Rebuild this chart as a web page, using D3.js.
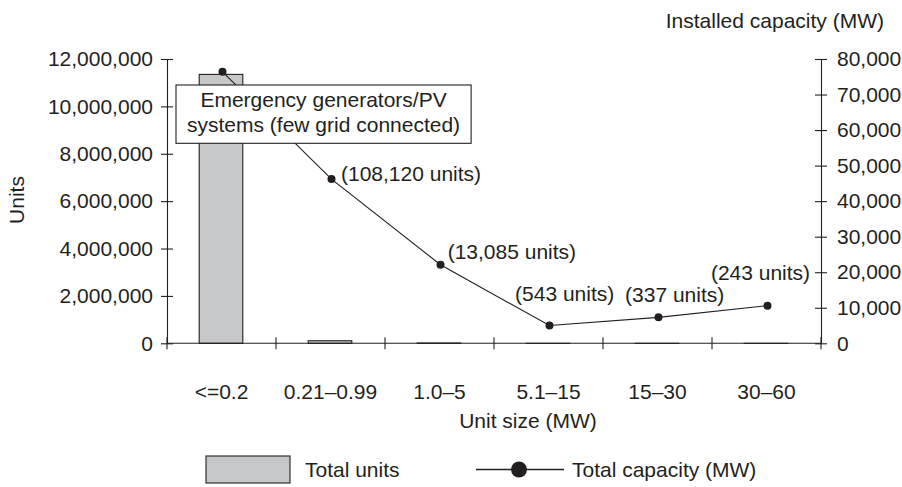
<!DOCTYPE html>
<html>
<head>
<meta charset="utf-8">
<script src="https://cdn.jsdelivr.net/npm/d3@7"></script>
<style>
  body { margin: 0; background: #fff; }
  svg text { font-family: "Liberation Sans", Arial, Helvetica, sans-serif; fill: #231f20; }
</style>
</head>
<body>
<svg id="chart" width="902" height="487"></svg>
<script>
// Unit size classes (MW)
const categories = ["<=0.2", "0.21\u20130.99", "1.0\u20135", "5.1\u201315", "15\u201330", "30\u201360"];
// Number of units in each size class
const totalUnits = [11350000, 108120, 13085, 543, 337, 243];
// Installed capacity in each size class (MW)
const totalCapacity = [76400, 46200, 22100, 5000, 7300, 10600];
// Point annotations
const unitLabels = ["", "(108,120 units)", "(13,085 units)", "(543 units)", "(337 units)", "(243 units)"];
const leftTicks = [0, 2000000, 4000000, 6000000, 8000000, 10000000, 12000000];
const rightTicks = [0, 10000, 20000, 30000, 40000, 50000, 60000, 70000, 80000];
const calloutLines = ["Emergency generators/PV", "systems (few grid connected)"];

const svg = d3.select("#chart");
const ink = "#231f20";
const fontSize = 21;

const plotLeft = 167, plotRight = 821, plotTop = 59, plotBottom = 343.3;

const x = d3.scaleBand().domain(categories).range([plotLeft, plotRight]).padding(0);
const yUnits = d3.scaleLinear().domain([0, 12000000]).range([plotBottom, plotTop]);
const yCap = d3.scaleLinear().domain([0, 80000]).range([plotBottom, plotTop]);
const fmt = d3.format(",");

// Bars: total units
const barW = x.bandwidth() * 0.4;
svg.append("g").selectAll("rect").data(categories).join("rect")
  .attr("x", d => x(d) + x.bandwidth() / 2 - barW / 2 - 0.5)
  .attr("y", (d, i) => yUnits(totalUnits[i]))
  .attr("width", barW)
  .attr("height", (d, i) => plotBottom - yUnits(totalUnits[i]))
  .attr("fill", "#c6c7c9")
  .attr("stroke", ink)
  .attr("stroke-width", 1.1);

// Left axis (units), ticks cross the axis line
const gl = svg.append("g").attr("transform", `translate(${plotLeft},0)`)
  .call(d3.axisLeft(yUnits).tickValues(leftTicks).tickFormat(fmt).tickSize(6).tickSizeOuter(0).tickPadding(8));
gl.selectAll(".tick").append("line").attr("x2", 6);

// Right axis (capacity)
const gr = svg.append("g").attr("transform", `translate(${plotRight},0)`)
  .call(d3.axisRight(yCap).tickValues(rightTicks).tickFormat(fmt).tickSize(6).tickSizeOuter(0).tickPadding(10));
gr.selectAll(".tick").append("line").attr("x2", -6);

[gl, gr].forEach(g => {
  g.attr("font-family", null);
  g.selectAll("text").attr("font-size", fontSize).attr("fill", ink);
  g.selectAll("line, path").attr("stroke", ink).attr("stroke-width", 1.1);
});

// Bottom axis: ticks at class boundaries, labels at class centres
const gb = svg.append("g");
gb.append("line").attr("x1", plotLeft).attr("x2", plotRight).attr("y1", plotBottom).attr("y2", plotBottom)
  .attr("stroke", ink).attr("stroke-width", 1.1);
const bounds = categories.map(c => x(c)).concat([plotRight]);
gb.selectAll("line.b").data(bounds).join("line").attr("class", "b")
  .attr("x1", d => d).attr("x2", d => d).attr("y1", plotBottom - 6).attr("y2", plotBottom + 6)
  .attr("stroke", ink).attr("stroke-width", 1.1);
gb.selectAll("text").data(categories).join("text")
  .attr("x", d => x(d) + x.bandwidth() / 2)
  .attr("y", plotBottom + 56)
  .attr("text-anchor", "middle")
  .attr("font-size", fontSize)
  .text(d => d);

// Capacity line
const cx = i => x(categories[i]) + x.bandwidth() / 2 + 1;
const line = d3.line().x((d, i) => cx(i)).y(d => yCap(d));
svg.append("path").datum(totalCapacity)
  .attr("d", line).attr("fill", "none").attr("stroke", ink).attr("stroke-width", 1.1);
svg.append("g").selectAll("circle").data(totalCapacity).join("circle")
  .attr("cx", (d, i) => cx(i)).attr("cy", d => yCap(d)).attr("r", 4).attr("fill", ink);

// Unit-count annotations beside the capacity points: [dx, dy, anchor]
const labelPlacement = [null, [9.5, -3.4, "start"], [7.2, -11.5, "start"], [15.2, -30.5, "middle"], [16.2, -20.7, "middle"], [-7, -31.6, "middle"]];
const labelIdx = d3.range(unitLabels.length).filter(i => labelPlacement[i]);
svg.append("g").selectAll("text").data(labelIdx).join("text")
  .attr("x", i => cx(i) + labelPlacement[i][0])
  .attr("y", i => yCap(totalCapacity[i]) + labelPlacement[i][1])
  .attr("text-anchor", i => labelPlacement[i][2])
  .attr("dominant-baseline", "middle")
  .attr("font-size", fontSize)
  .text(i => unitLabels[i]);

// Callout box for the smallest class, sized to its text
const box = svg.append("g");
const boxRect = box.append("rect").attr("x", 176).attr("y", 85).attr("height", 58.3)
  .attr("fill", "#fff").attr("stroke", ink).attr("stroke-width", 1.1);
const boxText = box.selectAll("text").data(calloutLines).join("text")
  .attr("y", (d, i) => 107 + i * 25)
  .attr("text-anchor", "middle").attr("font-size", fontSize).text(d => d);
const textW = d3.max(boxText.nodes(), n => n.getComputedTextLength());
const boxPad = 11;
boxRect.attr("width", textW + 2 * boxPad);
boxText.attr("x", 176 + boxPad + textW / 2);

// Axis titles
svg.append("text").attr("transform", "translate(24,200) rotate(-90)")
  .attr("text-anchor", "middle").attr("font-size", fontSize).text("Units");
svg.append("text").attr("x", 884).attr("y", 28).attr("text-anchor", "end")
  .attr("font-size", fontSize).text("Installed capacity (MW)");
svg.append("text").attr("x", 528).attr("y", 428).attr("text-anchor", "middle")
  .attr("font-size", fontSize).text("Unit size (MW)");

// Legend
const lg = svg.append("g");
const legendY = 469.5;
lg.append("rect").attr("x", 206).attr("y", legendY - 13.5).attr("width", 84).attr("height", 27)
  .attr("fill", "#c6c7c9").attr("stroke", ink).attr("stroke-width", 1.1);
lg.append("text").attr("x", 305).attr("y", legendY + 7.5).attr("font-size", fontSize).text("Total units");
lg.append("line").attr("x1", 476).attr("x2", 564).attr("y1", legendY).attr("y2", legendY).attr("stroke", ink).attr("stroke-width", 1.3);
lg.append("circle").attr("cx", 519).attr("cy", legendY).attr("r", 8).attr("fill", ink);
lg.append("text").attr("x", 572).attr("y", legendY + 7.5).attr("font-size", fontSize).text("Total capacity (MW)");
</script>
</body>
</html>
